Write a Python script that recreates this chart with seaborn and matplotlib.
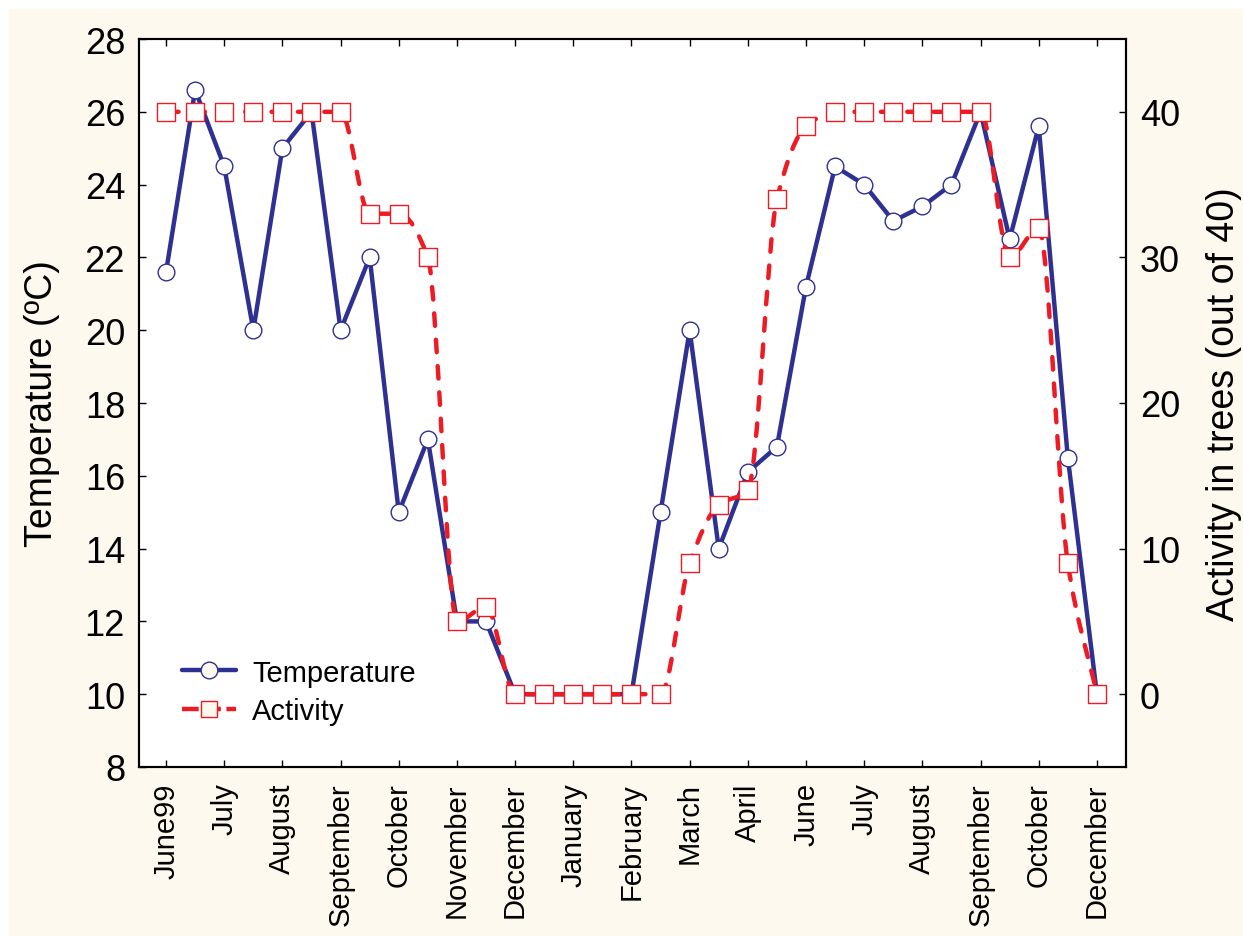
import numpy as np
import pandas as pd
import matplotlib
matplotlib.use("Agg")
import matplotlib.pyplot as plt
import seaborn as sns
from matplotlib.path import Path
from matplotlib.patches import PathPatch, Rectangle
from matplotlib.lines import Line2D

# data, one point every half month
months = ["June99", "July", "August", "September", "October", "November",
          "December", "January", "February", "March", "April", "June",
          "July", "August", "September", "October", "December"]
temperature = [21.6, 26.6, 24.5, 20.0, 25.0, 26.0, 20.0, 22.0, 15.0, 17.0,
               12.0, 12.0, 10.0, 10.0, 10.0, 10.0, 10.0, 15.0, 20.0, 14.0,
               16.1, 16.8, 21.2, 24.5, 24.0, 23.0, 23.4, 24.0, 26.0, 22.5,
               25.6, 16.5, 10.0]
activity = [40, 40, 40, 40, 40, 40, 40, 33, 33, 30,
            5, 6, 0, 0, 0, 0, 0, 0, 9, 13,
            14, 34, 39, 40, 40, 40, 40, 40, 40, 30,
            32, 9, 0]

df = pd.DataFrame({"idx": np.arange(len(temperature)),
                   "Temperature": temperature, "Activity": activity})

BLUE = "#2E3192"
RED = "#ED1C24"
CREAM = "#FDF9EF"

sns.set_theme(style="ticks")
plt.rcParams["font.family"] = ["Liberation Sans", "DejaVu Sans"]
plt.rcParams["lines.scale_dashes"] = False
for key in ("text.color", "axes.labelcolor", "xtick.color", "ytick.color",
            "axes.edgecolor"):
    plt.rcParams[key] = "black"


def smooth_path(x, y):
    # monotone cubic (Fritsch-Carlson) drawn as bezier segments
    x = np.asarray(x, float)
    y = np.asarray(y, float)
    h = np.diff(x)
    delta = np.diff(y) / h
    d = np.zeros_like(y)
    for k in range(1, len(y) - 1):
        if delta[k - 1] * delta[k] > 0:
            d[k] = 2.0 / (1.0 / delta[k - 1] + 1.0 / delta[k])
    d[0] = delta[0]
    d[-1] = delta[-1]
    verts = [(x[0], y[0])]
    codes = [Path.MOVETO]
    for k in range(len(y) - 1):
        verts += [(x[k] + h[k] / 3, y[k] + d[k] * h[k] / 3),
                  (x[k + 1] - h[k] / 3, y[k + 1] - d[k + 1] * h[k] / 3),
                  (x[k + 1], y[k + 1])]
        codes += [Path.CURVE4] * 3
    return Path(verts, codes)


fig = plt.figure(figsize=(12.43, 9.37), dpi=100, facecolor="white")
fig.patches.append(Rectangle((9 / 1243, 0), 1, 1 - 10 / 937,
                             transform=fig.transFigure, color=CREAM, zorder=-10))
ax = fig.add_axes([139 / 1243, 1 - 768 / 937, (1126 - 139) / 1243, (768 - 40) / 937])
ax.set_facecolor("white")

sns.lineplot(data=df, x="idx", y="Temperature", ax=ax, color=BLUE, lw=3.2,
             marker="o", markersize=12, markerfacecolor="white",
             markeredgecolor=BLUE, markeredgewidth=1.0, legend=False)

ax2 = ax.twinx()
ax2.add_patch(PathPatch(smooth_path(df["idx"], df["Activity"]), fill=False,
                        edgecolor=RED, lw=3.2, linestyle=(0, (9, 10)),
                        capstyle="round", zorder=2))
sns.scatterplot(data=df, x="idx", y="Activity", ax=ax2, marker="s", s=150,
                facecolor="white", edgecolor=RED, linewidth=1.0, zorder=3,
                legend=False)

ax.set_xlim(-0.93, 33.0)
ax.set_ylim(8, 28)
ax.set_yticks(np.arange(8, 29, 2))
ax.set_xticks(np.arange(0, 33, 2))
ax.set_xticklabels(months, rotation=90, fontsize=21)
ax.tick_params(axis="y", labelsize=26, direction="in", length=5, width=1,
               pad=10, right=False)
ax.tick_params(axis="x", direction="in", length=5, width=1, pad=11, top=True)
ax.set_xlabel("")
ax.set_ylabel("Temperature (ºC)", fontsize=27)
ax.yaxis.set_label_coords(-0.08, 0.5)

ax2.set_ylim(-5, 45)
ax2.set_yticks([0, 10, 20, 30, 40])
ax2.tick_params(axis="y", labelsize=26, direction="in", length=5, width=1, pad=10)
ax2.set_ylabel("Activity in trees (out of 40)", fontsize=27)
ax2.yaxis.set_label_coords(1.081, 0.5)

for a in (ax, ax2):
    for sp in a.spines.values():
        sp.set_visible(True)
        sp.set_linewidth(1.5)
        sp.set_color("black")

handles = [
    Line2D([], [], color=BLUE, lw=3.2, marker="o", markersize=12,
           markerfacecolor=CREAM, markeredgecolor=BLUE, markeredgewidth=1.0),
    Line2D([], [], color=RED, lw=3.2, linestyle=(0, (12, 4)), marker="s",
           markersize=12, markerfacecolor=CREAM, markeredgecolor=RED,
           markeredgewidth=1.0),
]
ax2.legend(handles, ["Temperature", "Activity"], loc="lower left",
           bbox_to_anchor=(0.017, 0.022), frameon=False, fontsize=21,
           handlelength=1.85, handletextpad=0.55, labelspacing=0.35)

fig.savefig("out.png", dpi=100, facecolor=fig.get_facecolor())
